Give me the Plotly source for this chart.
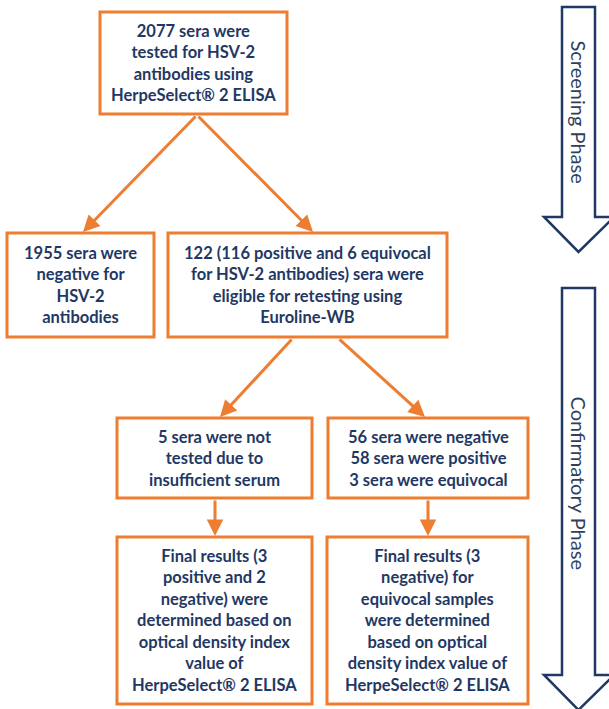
import plotly.graph_objects as go

# ---- content ----
box_texts = [
    "2077 sera were<br>tested for HSV-2<br>antibodies using<br>HerpeSelect® 2 ELISA",
    "1955 sera were<br>negative for<br>HSV-2<br>antibodies",
    "122 (116 positive and 6 equivocal<br>for HSV-2 antibodies) sera were<br>eligible for retesting using<br>Euroline-WB",
    "5 sera were not<br>tested due to<br>insufficient serum",
    "56 sera were negative<br>58 sera were positive<br>3 sera were equivocal",
    "Final results (3<br>positive and 2<br>negative) were<br>determined based on<br>optical density index<br>value of<br>HerpeSelect® 2 ELISA",
    "Final results (3<br>negative) for<br>equivocal samples<br>were determined<br>based on optical<br>density index value of<br>HerpeSelect® 2 ELISA",
]
# box extents (x0, y0, x1, y1) in canvas units
box_x0 = [100, 7, 168, 117, 328, 117, 327]
box_y0 = [12, 233, 233, 418, 418, 537, 537]
box_x1 = [287, 154, 447, 312, 528, 312, 528]
box_y1 = [114, 337, 337, 498, 498, 704, 704]

# arrows: (start x, start y, end x, end y)
arrow_sx = [197, 197, 293, 338, 215, 428]
arrow_sy = [115, 115, 338, 338, 499, 499]
arrow_ex = [83, 313, 220, 425, 215, 428]
arrow_ey = [232, 232, 417, 417, 536, 536]

phase_labels = ["Screening Phase", "Confirmatory Phase"]
phase_top = [7, 288]
phase_head = [217, 675]
phase_tip = [252, 710]
phase_text_y = [112, 483]

ORANGE = "#ED7D31"
NAVY = "#1F3864"
W, H = 609, 709

fig = go.Figure()
fig.add_trace(go.Scatter(x=[0, W], y=[0, H], mode="markers",
                         marker=dict(opacity=0), hoverinfo="skip", showlegend=False))

shapes = []
annotations = []

for t, x0, y0, x1, y1 in zip(box_texts, box_x0, box_y0, box_x1, box_y1):
    shapes.append(dict(type="rect", x0=x0, y0=y0, x1=x1, y1=y1, xref="x", yref="y",
                       line=dict(color=ORANGE, width=3), fillcolor="white", layer="below"))
    annotations.append(dict(x=(x0 + x1) / 2, y=(y0 + y1) / 2, xref="x", yref="y",
                            text="<b>" + t + "</b>", showarrow=False, align="center",
                            font=dict(family="Lato", size=16.5, color=NAVY)))

for sx, sy, ex, ey in zip(arrow_sx, arrow_sy, arrow_ex, arrow_ey):
    annotations.append(dict(x=ex, y=ey, ax=sx, ay=sy, xref="x", yref="y",
                            axref="x", ayref="y", text="", showarrow=True,
                            arrowhead=2, arrowsize=1.1, arrowwidth=3, arrowcolor=ORANGE,
                            standoff=0, startstandoff=0))

# phase arrows
sl, sr, hl, hr = 562, 595, 544, 614
cx = (sl + sr) / 2
for lab, top, head, tip, ty in zip(phase_labels, phase_top, phase_head, phase_tip, phase_text_y):
    path = (f"M {sl} {top} L {sr} {top} L {sr} {head} L {hr} {head} "
            f"L {cx} {tip} L {hl} {head} L {sl} {head} Z")
    shapes.append(dict(type="path", path=path, xref="x", yref="y",
                       line=dict(color=NAVY, width=2.5), fillcolor="white"))
    annotations.append(dict(x=cx, y=ty, xref="x", yref="y", text=lab, showarrow=False,
                            textangle=90, font=dict(family="Lato", size=20, color="#2F3F5E")))

fig.update_layout(
    width=W, height=H, margin=dict(l=0, r=0, t=0, b=0),
    paper_bgcolor="white", plot_bgcolor="white",
    xaxis=dict(range=[0, W], visible=False, fixedrange=True),
    yaxis=dict(range=[H, 0], visible=False, fixedrange=True),
    shapes=shapes, annotations=annotations, showlegend=False,
)
fig.write_html("out.html", config={"displayModeBar": False},
               post_script="document.body.style.margin='0';document.body.style.overflow='hidden';")
